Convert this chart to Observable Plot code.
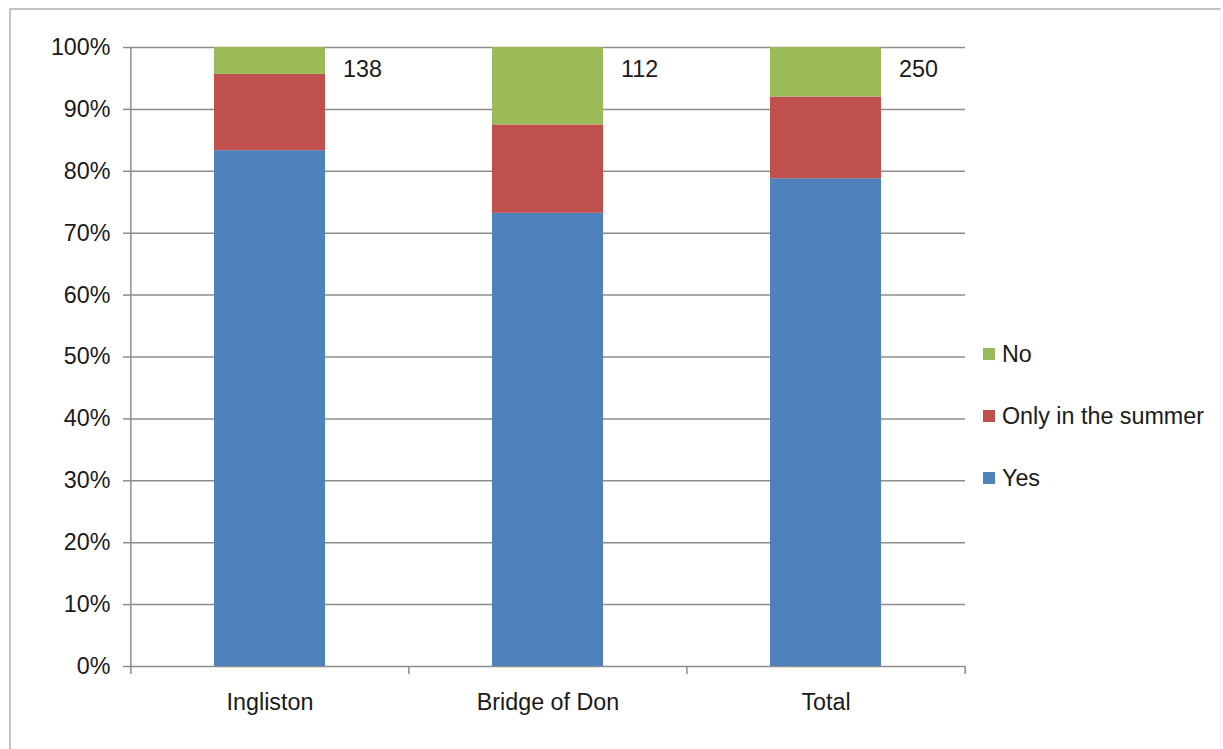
<!DOCTYPE html>
<html>
<head>
<meta charset="utf-8">
<script src="https://cdn.jsdelivr.net/npm/d3@7"></script>
<script src="https://cdn.jsdelivr.net/npm/@observablehq/plot@0.6"></script>
<style>
  html, body { margin: 0; padding: 0; background: #fff; }
  #wrap { position: relative; width: 1223px; height: 749px; overflow: hidden;
          font-family: "Liberation Sans", Arial, sans-serif; color: #1a1a1a; }
  #border { position: absolute; left: 9px; top: 8px; width: 1212px; height: 760px;
            border-top: 2px solid #c4c4c4; border-left: 2px solid #c4c4c4;
            border-right: 1px solid #f2f2f2; box-sizing: border-box; }
  #chart { position: absolute; left: 0; top: 0; }
  #legend { position: absolute; left: 983px; top: 323px; font-size: 23.3px; }
  .item { display: flex; align-items: center; height: 62px; }
  .sw { width: 12px; height: 12px; margin-right: 7px; }
</style>
</head>
<body>
<div id="wrap">
  <div id="border"></div>
  <div id="chart"></div>
  <div id="legend"></div>
</div>
<script>
// Survey sites and respondent counts per answer
const sites = ["Ingliston", "Bridge of Don", "Total"];
const respondents = [138, 112, 250];
const yes = [115, 82, 197];
const summerOnly = [17, 16, 33];
const no = [6, 14, 20];

const answers = ["Yes", "Only in the summer", "No"];
const colors = ["#4F81BD", "#C0504D", "#9BBB59"];
const yTicks = d3.range(0, 11).map(i => i / 10);

// Long-format rows, stacked bottom-to-top in answer order
const counts = [yes, summerOnly, no];
const rows = [];
sites.forEach((site, i) => {
  answers.forEach((answer, j) => rows.push({site, answer, count: counts[j][i]}));
});
const labels = sites.map((site, i) => ({site, n: respondents[i]}));

const W = 1223, H = 749;
const mL = 130, mR = 258, mT = 47, mB = 83;
const step = (W - mL - mR) / sites.length;
const gridColor = "#8c8c8c";
const font = "Liberation Sans, Arial, sans-serif";
const fs = 23.3;

const chart = Plot.plot({
  width: W,
  height: H,
  marginLeft: mL,
  marginRight: mR,
  marginTop: mT,
  marginBottom: mB,
  style: {fontFamily: font, fontSize: fs + "px", color: "#1a1a1a", background: "transparent"},
  x: {domain: sites, paddingInner: 0.6, paddingOuter: 0.3, label: null},
  y: {domain: [0, 1], label: null},
  color: {domain: answers, range: colors},
  marks: [
    Plot.gridY(yTicks, {stroke: gridColor, strokeOpacity: 1, strokeWidth: 1.5}),
    Plot.barY(rows, Plot.stackY({
      x: "site", y: "count", fill: "answer", offset: "normalize", order: answers
    })),
    // vertical axis line and category divider ticks along the baseline
    Plot.ruleX(sites, {x: d => d, dx: -step / 2, y1: () => 0, y2: () => 0,
      insetBottom: -8, stroke: gridColor, strokeWidth: 1.5}),
    Plot.ruleX([sites[sites.length - 1]], {x: d => d, dx: step / 2, y1: () => 0, y2: () => 0,
      insetBottom: -8, stroke: gridColor, strokeWidth: 1.5}),
    Plot.ruleX([sites[0]], {x: d => d, dx: -step / 2, stroke: gridColor, strokeWidth: 1.5}),
    Plot.axisY({ticks: yTicks, tickFormat: d3.format(".0%"), tickSize: 7, tickPadding: 13,
      stroke: gridColor, strokeWidth: 1.5, fill: "#1a1a1a", fontSize: fs, label: null}),
    Plot.axisX({tickSize: 0, tickPadding: 27, fill: "#1a1a1a", fontSize: fs, label: null}),
    Plot.text(labels, {x: "site", y: () => 1, text: d => String(d.n), textAnchor: "start",
      dx: 73, dy: 22, fontSize: fs, fill: "#1a1a1a"})
  ]
});
document.getElementById("chart").appendChild(chart);

// Legend, listed top-to-bottom in reverse stacking order
const legend = document.getElementById("legend");
answers.slice().reverse().forEach(answer => {
  const item = document.createElement("div");
  item.className = "item";
  const sw = document.createElement("span");
  sw.className = "sw";
  sw.style.background = colors[answers.indexOf(answer)];
  const label = document.createElement("span");
  label.textContent = answer;
  item.appendChild(sw);
  item.appendChild(label);
  legend.appendChild(item);
});
</script>
</body>
</html>
